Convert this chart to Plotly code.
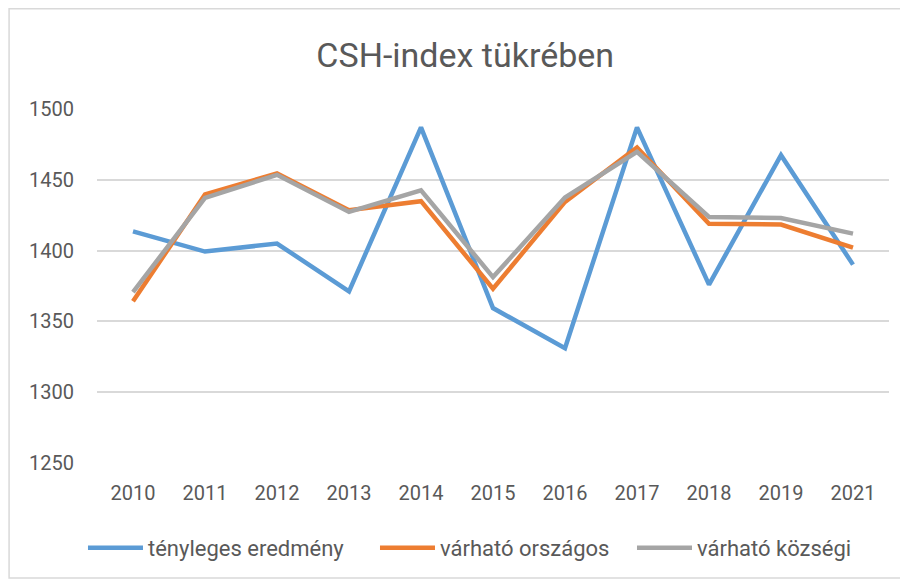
import plotly.graph_objects as go

years = ["2010", "2011", "2012", "2013", "2014", "2015", "2016", "2017", "2018", "2019", "2021"]
tenyleges = [1413.6, 1399.3, 1405, 1371.2, 1487, 1359.4, 1331.1, 1487, 1376, 1467.4, 1390.1]
orszagos = [1364.2, 1439.6, 1454.5, 1428.5, 1434.9, 1373.1, 1434.4, 1472.8, 1419, 1418.4, 1402.1]
kozsegi = [1370.7, 1437.2, 1453.5, 1427.3, 1442.6, 1381.3, 1437.5, 1469.7, 1423.8, 1423, 1412]

series_names = ["tényleges eredmény", "várható országos", "várható községi"]
colors = ["#5b9bd5", "#ed7d31", "#a5a5a5"]
ytick_vals = [1250, 1300, 1350, 1400, 1450, 1500]

FONT = "Roboto"
TXT = "#595959"

legend_ids = ["legend", "legend2", "legend3"]
legend_x = [-0.0177, 0.351, 0.6755]

fig = go.Figure()
for name, vals, c, lg in zip(series_names, [tenyleges, orszagos, kozsegi], colors, legend_ids):
    fig.add_trace(go.Scatter(x=years, y=vals, name=name, mode="lines", legend=lg,
                             line=dict(color=c, width=4.5)))

legend_common = dict(orientation="h", xanchor="left", y=-0.24, yanchor="middle",
                     font=dict(family=FONT, size=22, color=TXT), itemwidth=55,
                     bgcolor="rgba(0,0,0,0)")

fig.update_layout(
    width=900, height=573,
    margin=dict(l=89, r=19, t=101, b=118, autoexpand=False),
    paper_bgcolor="white", plot_bgcolor="white",
    title=dict(text="CSH-index tükrében", x=0.508, xanchor="center", y=0.918, yanchor="middle",
               font=dict(family=FONT, size=34, color=TXT)),
    font=dict(family=FONT, color=TXT, size=20),
    showlegend=True,
    legend=dict(x=legend_x[0], **legend_common),
    legend2=dict(x=legend_x[1], **legend_common),
    legend3=dict(x=legend_x[2], **legend_common),
    xaxis=dict(type="category", range=[-0.5, len(years) - 0.5], showgrid=False,
               showline=False, ticks="",
               tickfont=dict(family=FONT, size=20, color=TXT), ticklabelstandoff=16),
    yaxis=dict(range=[1250, 1500], tickvals=ytick_vals, showgrid=True, gridcolor="#d9d9d9",
               gridwidth=1.5, zeroline=False, showline=False, ticks="",
               tickfont=dict(family=FONT, size=20, color=TXT), ticklabelstandoff=22),
    shapes=[dict(type="rect", xref="paper", yref="paper",
                 x0=-0.111, x1=1.0215, y0=-0.325, y1=1.283,
                 line=dict(color="#d9d9d9", width=1.5), fillcolor="rgba(0,0,0,0)", layer="below")],
)

fig.write_html("out.html")
